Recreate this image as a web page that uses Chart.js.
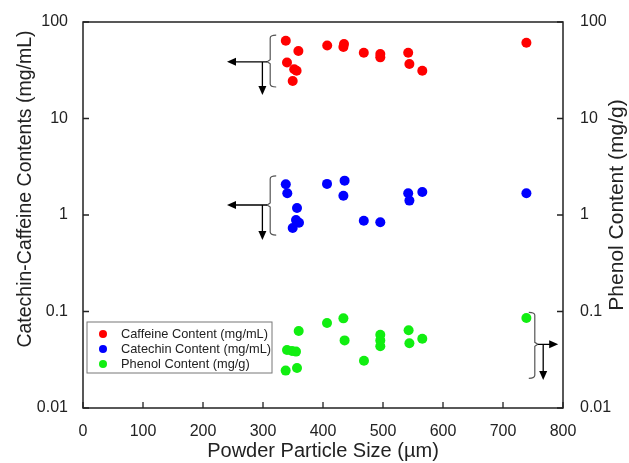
<!DOCTYPE html>
<html>
<head>
<meta charset="utf-8">
<script src="https://cdn.jsdelivr.net/npm/chart.js@4/dist/chart.umd.min.js"></script>
<style>
  html, body { margin: 0; padding: 0; background: #fff; }
  #wrap { width: 629px; height: 463px; }
</style>
</head>
<body>
<div id="wrap"><canvas id="particleChart" width="629" height="463"></canvas></div>
<script>
// values (x in µm, y on log axes)
const caffeineSize = [338, 340, 349.5, 352, 356, 359, 407, 434, 435, 468, 495.5, 495.5, 542, 544, 565.5, 739];
const caffeineContent = [64, 38, 24.5, 32.4, 31.3, 50, 57, 55, 59, 48, 46.6, 43, 48, 36.7, 31.3, 61];

const catechinSize = [338, 340.5, 349.5, 355, 356.7, 360, 406.7, 434, 436, 468, 495.5, 542, 544, 565.5, 739];
const catechinContent = [2.08, 1.68, 0.733, 0.887, 1.18, 0.83, 2.10, 1.585, 2.27, 0.873, 0.84, 1.68, 1.41, 1.73, 1.68];

const phenolSize = [337.8, 340, 348.3, 355, 356.7, 359.5, 406.7, 434, 436, 468.3, 495.5, 495.5, 495.5, 542.7, 544, 565.5, 739];
const phenolContent = [0.0244, 0.0399, 0.039, 0.0384, 0.026, 0.0628, 0.076, 0.0849, 0.0502, 0.0309, 0.0575, 0.0502, 0.0436, 0.0638, 0.0468, 0.0523, 0.0857];

const xTicks = [0, 100, 200, 300, 400, 500, 600, 700, 800];
const yTicks = [0.01, 0.1, 1, 10, 100];

const FONT = '"Liberation Sans", Arial, sans-serif';
const toPoints = (xs, ys) => xs.map((x, i) => ({ x, y: ys[i] }));

// frame, inward ticks, rotated titles, legend and the bracket/arrow marks
const decorPlugin = {
  id: 'decor',
  afterDraw(chart) {
    const { ctx, chartArea: a, scales } = chart;
    const xs = scales.x, yl = scales.y, yr = scales.y2;
    ctx.save();

    // box
    ctx.strokeStyle = '#222';
    ctx.lineWidth = 1.5;
    ctx.strokeRect(a.left, a.top, a.right - a.left, a.bottom - a.top);

    // inward ticks
    ctx.lineWidth = 1.3;
    ctx.beginPath();
    xTicks.forEach(v => {
      const px = xs.getPixelForValue(v);
      ctx.moveTo(px, a.bottom); ctx.lineTo(px, a.bottom - 6);
    });
    yTicks.forEach(v => {
      const py = yl.getPixelForValue(v);
      ctx.moveTo(a.left, py); ctx.lineTo(a.left + 6, py);
      const pr = yr.getPixelForValue(v);
      ctx.moveTo(a.right, pr); ctx.lineTo(a.right - 6, pr);
    });
    ctx.stroke();

    // y titles (both read bottom to top)
    ctx.fillStyle = '#222';
    ctx.textAlign = 'center';
    ctx.textBaseline = 'middle';
    ctx.save();
    ctx.font = '19.5px ' + FONT;
    ctx.translate(26, 189);
    ctx.rotate(-Math.PI / 2);
    ctx.fillText('Catechin-Caffeine Contents (mg/mL)', 0, 0);
    ctx.restore();
    ctx.save();
    ctx.font = '21px ' + FONT;
    ctx.translate(617, 205);
    ctx.rotate(-Math.PI / 2);
    ctx.fillText('Phenol Content (mg/g)', 0, 0);
    ctx.restore();

    // legend
    const lx = a.left + 4, ly = a.top + 300;
    ctx.strokeStyle = '#777';
    ctx.lineWidth = 1;
    ctx.strokeRect(lx, ly, 185, 51);
    ctx.font = '12.8px ' + FONT;
    ctx.textAlign = 'left';
    chart.data.datasets.forEach((ds, i) => {
      const cy = ly + 12 + i * 15;
      ctx.fillStyle = ds.backgroundColor;
      ctx.beginPath();
      ctx.arc(lx + 16, cy, 4, 0, Math.PI * 2);
      ctx.fill();
      ctx.fillStyle = '#222';
      ctx.fillText(ds.label, lx + 34, cy);
    });

    // brackets with arrows pointing to the axis each group belongs to
    const arrowHead = (x, y, dir) => {
      ctx.beginPath();
      if (dir === 'left') { ctx.moveTo(x, y); ctx.lineTo(x + 9, y - 4); ctx.lineTo(x + 9, y + 4); }
      if (dir === 'right') { ctx.moveTo(x, y); ctx.lineTo(x - 9, y - 4); ctx.lineTo(x - 9, y + 4); }
      if (dir === 'down') { ctx.moveTo(x, y); ctx.lineTo(x - 4, y - 9); ctx.lineTo(x + 4, y - 9); }
      ctx.closePath();
      ctx.fillStyle = '#000';
      ctx.fill();
    };
    const bracket = (b, ys) => {
      const bx = xs.getPixelForValue(b.x);
      const t = ys.getPixelForValue(b.top), m = ys.getPixelForValue(b.mid), bt = ys.getPixelForValue(b.bottom);
      const s = b.side === 'left' ? 1 : -1;
      ctx.strokeStyle = '#555';
      ctx.lineWidth = 1.2;
      ctx.beginPath();
      ctx.moveTo(bx + 6 * s, t);
      ctx.quadraticCurveTo(bx, t, bx, t + 3);
      ctx.lineTo(bx, m - 2);
      ctx.lineTo(bx - 3 * s, m);
      ctx.lineTo(bx, m + 2);
      ctx.lineTo(bx, bt - 3);
      ctx.quadraticCurveTo(bx, bt, bx + 6 * s, bt);
      ctx.stroke();
      const tip = xs.getPixelForValue(b.arrowTo);
      const dx = xs.getPixelForValue(b.downX);
      const dy = ys.getPixelForValue(b.downTo);
      ctx.strokeStyle = '#000';
      ctx.lineWidth = 1.3;
      ctx.beginPath();
      ctx.moveTo(bx - 3 * s, m); ctx.lineTo(tip + 8 * s, m);
      ctx.moveTo(dx, m); ctx.lineTo(dx, dy - 8);
      ctx.stroke();
      arrowHead(tip, m, b.side === 'left' ? 'left' : 'right');
      arrowHead(dx, dy, 'down');
    };
    bracket({ x: 312, top: 73, mid: 38.7, bottom: 21.2, side: 'left', arrowTo: 240, downX: 299, downTo: 17.5 }, yl);
    bracket({ x: 312, top: 2.54, mid: 1.27, bottom: 0.62, side: 'left', arrowTo: 240, downX: 299, downTo: 0.55 }, yl);
    bracket({ x: 753, top: 0.098, mid: 0.0457, bottom: 0.0203, side: 'right', arrowTo: 792, downX: 767, downTo: 0.0195 }, yr);

    ctx.restore();
  }
};

const logAxis = (position) => ({
  type: 'logarithmic',
  position,
  min: 0.01,
  max: 100,
  afterBuildTicks: s => { s.ticks = yTicks.map(v => ({ value: v })); },
  afterFit: s => { s.width = position === 'left' ? 83 : 66; },
  grid: { display: false },
  border: { display: false },
  ticks: {
    padding: position === 'left' ? 7 : 9,
    color: '#222',
    font: { family: FONT, size: 16 },
    callback: v => String(v)
  },
  title: { display: false }
});

new Chart(document.getElementById('particleChart'), {
  type: 'scatter',
  data: {
    datasets: [
      { label: 'Caffeine Content (mg/mL)', data: toPoints(caffeineSize, caffeineContent), backgroundColor: '#ff0000', yAxisID: 'y' },
      { label: 'Catechin Content (mg/mL)', data: toPoints(catechinSize, catechinContent), backgroundColor: '#0000ff', yAxisID: 'y' },
      { label: 'Phenol Content (mg/g)', data: toPoints(phenolSize, phenolContent), backgroundColor: '#11ee11', yAxisID: 'y2' }
    ]
  },
  options: {
    responsive: false,
    animation: false,
    layout: { padding: { top: 22, left: 0, right: 0, bottom: 0 } },
    elements: { point: { radius: 5, borderWidth: 0, hoverRadius: 5 } },
    plugins: { legend: { display: false }, tooltip: { enabled: false } },
    scales: {
      x: {
        type: 'linear',
        min: 0,
        max: 800,
        afterBuildTicks: s => { s.ticks = xTicks.map(v => ({ value: v })); },
        afterFit: s => { s.height = 55; },
        grid: { display: false },
        border: { display: false },
        ticks: { padding: 6, color: '#222', font: { family: FONT, size: 16 } },
        title: {
          display: true,
          text: 'Powder Particle Size (µm)',
          color: '#222',
          font: { family: FONT, size: 20 },
          padding: { top: 0, bottom: 0 }
        }
      },
      y: logAxis('left'),
      y2: logAxis('right')
    }
  },
  plugins: [decorPlugin]
});
</script>
</body>
</html>
